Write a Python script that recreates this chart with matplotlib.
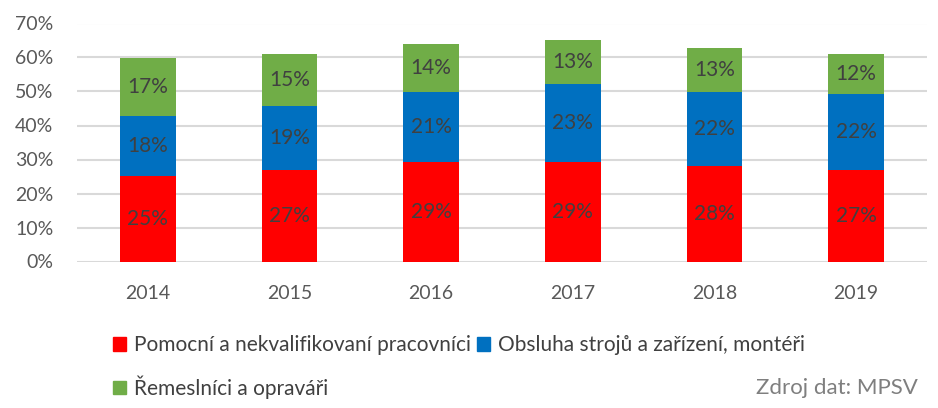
import matplotlib.pyplot as plt
import matplotlib.patches as mpatches
import numpy as np

plt.rcParams["font.family"] = ["Lato", "DejaVu Sans"]

years = ["2014", "2015", "2016", "2017", "2018", "2019"]
pomocni = [25.2, 26.9, 29.3, 29.3, 28.1, 26.9]
obsluha = [17.6, 18.8, 20.6, 22.9, 21.8, 22.4]
remeslnici = [17.1, 15.3, 14.1, 12.9, 12.9, 11.7]
labels = [
    "Pomocní a nekvalifikovaní pracovníci",
    "Obsluha strojů a zařízení, montéři",
    "Řemeslníci a opraváři",
]
colors = ["#ff0000", "#0070c0", "#70ad47"]

fig = plt.figure(figsize=(9.38, 4.08), dpi=100)
ax = fig.add_axes([77 / 938, 1 - 261.5 / 408, 850 / 938, 238 / 408])

x = np.arange(len(years))
width = 0.395
bottom = np.zeros(len(years))
for vals, color in zip([pomocni, obsluha, remeslnici], colors):
    ax.bar(x, vals, width, bottom=bottom, color=color, zorder=3)
    for xi, v, b0 in zip(x, vals, bottom):
        ax.text(xi, b0 + v / 2, f"{round(v):d}%", ha="center", va="center",
                fontsize=15, color="#404040", zorder=4)
    bottom = bottom + np.array(vals)

ax.set_xlim(-0.5, len(years) - 0.5)
ax.set_ylim(0, 70)
ax.set_yticks(range(0, 71, 10))
ax.set_yticklabels([f"{v}%" for v in range(0, 71, 10)])
ax.set_xticks(x, years)
ax.grid(axis="y", color="#d9d9d9", linewidth=1.5, zorder=0)
ax.tick_params(axis="both", length=0, labelsize=14, labelcolor="#595959")
ax.tick_params(axis="y", pad=17)
ax.tick_params(axis="x", pad=17)
for s in ax.spines.values():
    s.set_visible(False)

handles = [mpatches.Patch(color=c) for c in colors]
order = [0, 2, 1]
fig.legend([handles[i] for i in order], [labels[i] for i in order],
           ncol=2, loc="upper left", bbox_to_anchor=(103 / 938, 1 - 325 / 408),
           frameon=False, fontsize=15, labelcolor="#404040",
           handlelength=0.6, handleheight=0.6, handletextpad=0.4,
           columnspacing=0.3, labelspacing=0.95, borderpad=0)

fig.text(918 / 938, 1 - 388 / 408, "Zdroj dat: MPSV", ha="right", va="center",
         fontsize=16, color="#7f7f7f")

fig.savefig("out.png", dpi=100)
